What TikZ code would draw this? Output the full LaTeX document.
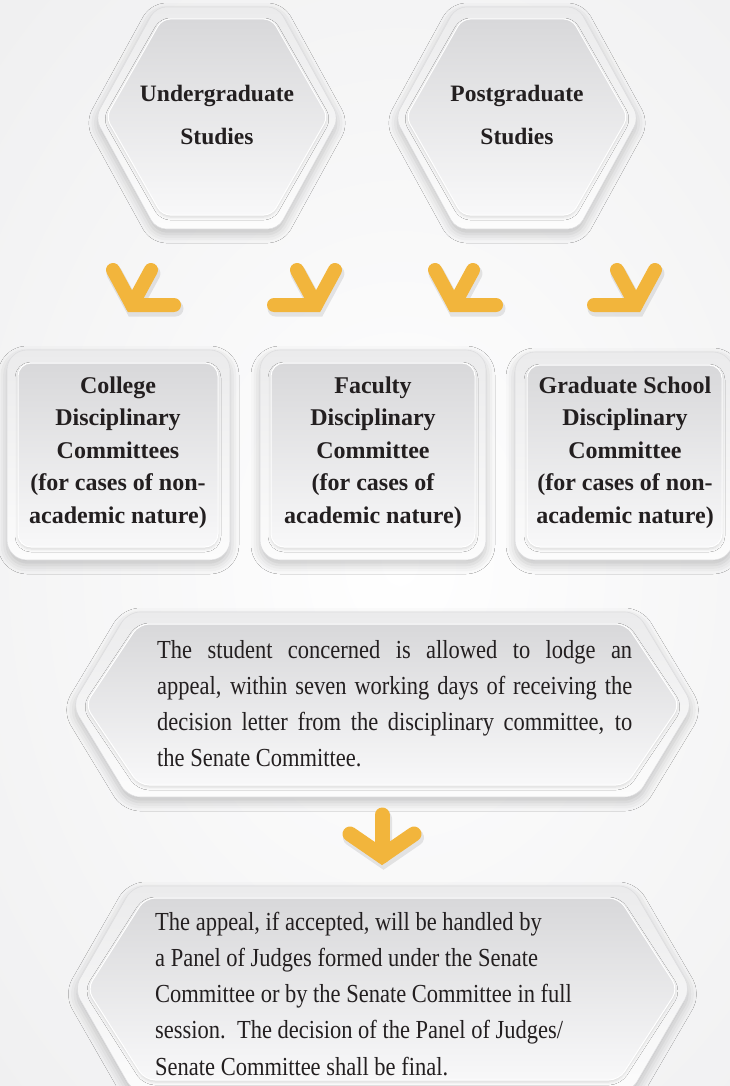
\documentclass[tikz,border=0pt]{standalone}
\usepackage{fontspec}
\setmainfont{Liberation Serif}
\newfontfamily\bodyfont{Liberation Serif}[FakeStretch=0.865]
\usetikzlibrary{shadows.blur}

\definecolor{bgcol}{HTML}{F0F0F1}
\definecolor{ringtop}{HTML}{EBEBEC}
\definecolor{ringbot}{HTML}{FCFCFC}
\definecolor{ringline}{HTML}{DDDDDF}
\definecolor{facetop}{HTML}{D8D8DA}
\definecolor{facebot}{HTML}{F8F8F9}
\definecolor{txt}{HTML}{231F20}
\definecolor{arrowcol}{HTML}{F2B53C}

\tikzset{
  ring/.style={top color=ringtop, bottom color=ringbot, draw=ringline, line width=0.6pt,
    blur shadow={shadow xshift=0pt, shadow yshift=-5pt, shadow blur radius=9pt, shadow opacity=22}},
  face/.style={top color=facetop, bottom color=facebot, draw=white, line width=1pt,
    blur shadow={shadow xshift=0pt, shadow yshift=-2pt, shadow blur radius=3pt, shadow opacity=14}},
  % multi-line centred nodes: the base anchor sits on the last line
  headtext/.style={font=\bfseries\fontsize{23.5}{43}\selectfont, text=txt, align=center,
    anchor=base, inner sep=0pt},
  boxtext/.style={font=\bfseries\fontsize{24}{32.5}\selectfont, text=txt, align=center,
    anchor=base, inner sep=0pt},
  % paragraph nodes: the base anchor sits on the first line
  bodytext/.style={font=\bodyfont\fontsize{26}{36.3}\selectfont, text=txt,
    anchor=base west, inner sep=0pt},
  chev/.style={draw=arrowcol, line width=14pt, line cap=round, line join=miter},
  chevshade/.style={draw=black, opacity=0.09, line width=16pt, line cap=round,
    line join=miter, shift={(1.5,3.5)}},
  % chevron pointing down-left, tip at the pic origin
  arrowdl/.pic={
    \draw[chevshade] (-19,-35) -- (0,0) -- (42,0) (19,-35) -- (0,0);
    \draw[chev] (-19,-35) -- (0,0) -- (42,0);
    \draw[chev] (19,-35) -- (0,0);
  },
  % chevron pointing down-right, tip at the pic origin
  arrowdr/.pic={
    \draw[chevshade] (19,-35) -- (0,0) -- (-42,0) (-19,-35) -- (0,0);
    \draw[chev] (19,-35) -- (0,0) -- (-42,0);
    \draw[chev] (-19,-35) -- (0,0);
  },
  % arrow pointing straight down, tip at the pic origin
  arrowdown/.pic={
    \draw[chevshade, line width=17pt] (-32,-22) -- (0,0) -- (32,-22) (0,-41) -- (0,0);
    \draw[chev, line width=15pt] (-32,-22) -- (0,0) -- (32,-22);
    \draw[chev, line width=15pt] (0,-41) -- (0,0);
  },
}

\begin{document}
\begin{tikzpicture}[x=1pt, y=-1pt]
\useasboundingbox (0,0) rectangle (730,1086);

% background
\fill[bgcol] (0,0) rectangle (730,1086);
\shade[inner color=white, outer color=bgcol] (400,560) ellipse (560 and 760);

% top hexagons
\path[ring, rounded corners=10pt] (217,7) -- (278,7) -- (339,118) -- (278,229)
  -- (156,229) -- (95,118) -- (156,7) -- cycle;
\path[face, rounded corners=8pt] (217,19) -- (272,19) -- (328,117) -- (272,215)
  -- (162,215) -- (106,117) -- (162,19) -- cycle;
\path[ring, rounded corners=10pt] (517,7) -- (578,7) -- (639,118) -- (578,229)
  -- (456,229) -- (395,118) -- (456,7) -- cycle;
\path[face, rounded corners=8pt] (517,19) -- (572,19) -- (628,117) -- (572,215)
  -- (462,215) -- (406,117) -- (462,19) -- cycle;

\node[headtext] (ug) at (217,145) {Undergraduate\\Studies};
\node[headtext] (pg) at (517,145) {Postgraduate\\Studies};

% arrows from the study levels to the committees
\pic at (132,305) {arrowdl};
\pic at (316,305) {arrowdr};
\pic at (454,305) {arrowdl};
\pic at (636,305) {arrowdr};

% committee boxes
\path[ring, rounded corners=20pt] (7,350) rectangle (230,560);
\path[face, rounded corners=13pt] (18,363) rectangle (218,547);
\path[ring, rounded corners=20pt] (260,350) rectangle (486,560);
\path[face, rounded corners=13pt] (271,363) rectangle (475,547);
\path[ring, rounded corners=20pt] (515,352) rectangle (733,560);
\path[face, rounded corners=13pt] (527,365) rectangle (722,547);

\node[boxtext] (col) at (118,523)
  {College\\Disciplinary\\Committees\\(for cases of non-\\academic nature)};
\node[boxtext] (fac) at (373,523)
  {Faculty\\Disciplinary\\Committee\\(for cases of\\academic nature)};
\node[boxtext] (gsc) at (625,523)
  {Graduate School\\Disciplinary\\Committee\\(for cases of non-\\academic nature)};

% appeal hexagon
\path[ring, rounded corners=12pt] (383,612) -- (637,612) -- (693,705) -- (637,797)
  -- (128,797) -- (72,705) -- (128,612) -- cycle;
\path[face, rounded corners=10pt] (383,624) -- (626,624) -- (680,705) -- (626,785)
  -- (139,785) -- (85,705) -- (139,624) -- cycle;
\node[bodytext, text width=475pt, align=justify] (appeal) at (157,658)
  {The student concerned is allowed to lodge an\linebreak
   appeal, within seven working days of receiving the\linebreak
   decision letter from the disciplinary committee, to\linebreak
   the Senate Committee.};

\pic at (382,856) {arrowdown};

% panel hexagon
\path[ring, rounded corners=12pt] (383,886) -- (631,886) -- (691,989) -- (631,1092)
  -- (133,1092) -- (74,989) -- (133,886) -- cycle;
\path[face, rounded corners=10pt] (383,898) -- (619,898) -- (678,989) -- (619,1080)
  -- (145,1080) -- (87,989) -- (145,898) -- cycle;
\node[bodytext, text width=480pt, align=flush left] (panel) at (155,930)
  {The appeal, if accepted, will be handled by\\
   a Panel of Judges formed under the Senate\\
   Committee or by the Senate Committee in full\\
   session.\ \ The decision of the Panel of Judges/\\
   Senate Committee shall be final.};
\end{tikzpicture}
\end{document}
